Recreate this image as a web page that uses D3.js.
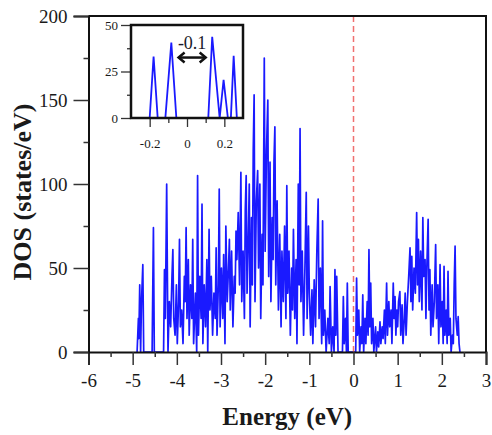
<!DOCTYPE html>
<html><head><meta charset="utf-8">
<script src="https://cdn.jsdelivr.net/npm/d3@7"></script>
<style>
html,body{margin:0;padding:0;background:#fff;}
svg text{font-family:"Liberation Serif","Times New Roman",serif;}
</style></head>
<body>
<svg id="chart" width="492" height="435"></svg>
<script>
// ---- data ----
const energy = [-4.90,-4.87,-4.86,-4.84,-4.82,-4.80,-4.77,-4.75,-4.56,-4.53,-4.51,-4.30,-4.28,-4.26,-4.23,-4.20,-4.17,-4.14,-4.11,-4.09,-4.07,-4.04,-4.01,-3.99,-3.96,-3.94,-3.92,-3.89,-3.86,-3.83,-3.81,-3.79,-3.77,-3.74,-3.72,-3.69,-3.66,-3.64,-3.62,-3.58,-3.55,-3.53,-3.51,-3.48,-3.45,-3.43,-3.41,-3.38,-3.35,-3.32,-3.30,-3.27,-3.25,-3.22,-3.19,-3.16,-3.13,-3.11,-3.09,-3.06,-3.04,-3.02,-2.99,-2.96,-2.94,-2.91,-2.89,-2.86,-2.83,-2.81,-2.79,-2.76,-2.73,-2.70,-2.68,-2.66,-2.64,-2.61,-2.58,-2.55,-2.53,-2.50,-2.47,-2.45,-2.43,-2.41,-2.38,-2.36,-2.34,-2.31,-2.29,-2.27,-2.25,-2.23,-2.20,-2.17,-2.15,-2.12,-2.10,-2.07,-2.05,-2.02,-2.00,-1.97,-1.94,-1.92,-1.89,-1.87,-1.84,-1.82,-1.80,-1.78,-1.76,-1.73,-1.70,-1.67,-1.64,-1.62,-1.59,-1.56,-1.53,-1.51,-1.49,-1.46,-1.43,-1.40,-1.38,-1.36,-1.33,-1.30,-1.28,-1.25,-1.23,-1.21,-1.19,-1.16,-1.13,-1.10,-1.07,-1.05,-1.02,-1.00,-0.97,-0.94,-0.92,-0.89,-0.86,-0.83,-0.80,-0.78,-0.75,-0.72,-0.70,-0.68,-0.65,-0.62,-0.58,-0.55,-0.53,-0.50,-0.47,-0.44,-0.42,-0.40,-0.38,-0.35,-0.25,-0.23,-0.21,-0.18,-0.16,-0.14,-0.12,0.05,0.07,0.09,0.12,0.14,0.17,0.19,0.21,0.23,0.26,0.28,0.31,0.33,0.35,0.37,0.39,0.41,0.44,0.46,0.50,0.52,0.55,0.57,0.60,0.62,0.65,0.67,0.70,0.72,0.75,0.77,0.80,0.82,0.85,0.87,0.90,0.92,0.94,0.96,0.98,1.00,1.02,1.05,1.07,1.10,1.12,1.15,1.17,1.19,1.22,1.25,1.28,1.30,1.32,1.34,1.37,1.40,1.43,1.45,1.47,1.49,1.52,1.55,1.57,1.59,1.62,1.64,1.66,1.69,1.71,1.73,1.75,1.78,1.80,1.83,1.86,1.88,1.91,1.93,1.96,1.98,2.01,2.03,2.05,2.07,2.10,2.12,2.14,2.16,2.19,2.21,2.24,2.26,2.28,2.30,2.32,2.35,2.37,2.39,2.41];
const dos = [0,20,8,40,0,30,52,0,0,74,0,0,49,20,100,0,30,15,45,61,20,10,40,5,30,67,15,25,5,45,30,74,20,55,10,40,20,67,5,35,0,105,10,45,20,88,5,40,15,55,0,73,25,45,10,35,20,62,10,40,97,15,50,20,58,5,75,30,50,67,25,60,15,45,35,72,55,83,40,107,30,60,20,85,105,35,70,100,15,80,40,120,153,30,90,108,50,100,20,70,40,175,60,120,150,45,113,30,80,55,114,134,40,90,25,70,15,60,30,75,20,99,35,60,10,50,25,73,20,55,5,100,40,133,30,60,10,50,95,20,75,35,10,37,5,43,15,60,91,20,50,5,78,10,25,0,20,5,39,0,15,0,49,10,45,0,0,33,5,20,0,41,0,0,44,10,25,0,15,5,34,0,20,5,30,10,61,15,41,5,20,0,15,0,12,3,18,5,15,8,25,5,41,10,30,15,25,5,41,20,33,10,25,15,30,36,10,28,5,20,35,10,30,45,62,30,57,25,50,35,83,40,67,30,60,25,80,45,55,20,50,79,25,49,10,40,15,30,64,20,40,5,52,15,30,5,51,10,25,5,48,10,20,0,10,5,40,63,20,10,21,5,0];

const insetEnergy = [-0.200,-0.179,-0.157,-0.116,-0.084,-0.057,0.114,0.135,0.175,0.196,0.219,0.235,0.250,0.267];
const insetDos    = [0,33,0,0,40.5,0,0,43.7,0,20.5,0,0,33.4,0];

const xTicks = [-6,-5,-4,-3,-2,-1,0,1,2,3];
const xMinorTicks = [-5.5,-4.5,-3.5,-2.5,-1.5,-0.5,0.5,1.5,2.5];
const yTicks = [0,50,100,150,200];
const yMinorTicks = [25,75,125,175];
const insetXTicks = [-0.2,0,0.2];
const insetXMinor = [-0.1,0.1];
const insetYTicks = [0,25,50];
const insetYMinor = [12.5,37.5];

const xTitle = "Energy (eV)";
const yTitle = "DOS (states/eV)";
const gapLabel = "-0.1";

// ---- layout ----
const svg = d3.select("#chart");
const L = 88.5, R = 486, T = 16, B = 352;
const x = d3.scaleLinear().domain([-6,3]).range([L,R]);
const y = d3.scaleLinear().domain([0,200]).range([B,T]);
const textColor = "#1a1a1a";

// main line
const line = d3.line().x((d,i)=>x(energy[i])).y((d,i)=>y(dos[i]));
svg.append("path").datum(dos).attr("d",line)
  .attr("fill","none").attr("stroke","#1a1aff").attr("stroke-width",1.7).attr("stroke-linejoin","round");

// fermi level
svg.append("line").attr("x1",x(0)).attr("x2",x(0)).attr("y1",T).attr("y2",B)
  .attr("stroke","#f07070").attr("stroke-width",1.5).attr("stroke-dasharray","6,4");

// axes
const xAxis = d3.axisBottom(x).tickValues(xTicks).tickSize(13).tickFormat(d3.format("d"));
const gx = svg.append("g").attr("transform",`translate(0,${B})`).call(xAxis);
gx.select(".domain").attr("stroke","#111").attr("stroke-width",2);
gx.selectAll(".tick line").attr("stroke","#333").attr("stroke-width",1.5);
gx.selectAll(".tick text").attr("font-size",19).attr("fill",textColor).attr("dy","1.0em")
  .text(d=>d<0? "-"+Math.abs(d) : d);
const gxm = svg.append("g").attr("transform",`translate(0,${B})`)
  .call(d3.axisBottom(x).tickValues(xMinorTicks).tickSize(5).tickFormat(""));
gxm.select(".domain").remove();
gxm.selectAll(".tick line").attr("stroke","#333").attr("stroke-width",1.5);

const yAxis = d3.axisLeft(y).tickValues(yTicks).tickSize(15);
const gy = svg.append("g").attr("transform",`translate(${L},0)`).call(yAxis);
gy.select(".domain").attr("stroke","#111").attr("stroke-width",2);
gy.selectAll(".tick line").attr("stroke","#333").attr("stroke-width",1.5);
gy.selectAll(".tick text").attr("font-size",19).attr("fill",textColor).attr("x",-21);
const gym = svg.append("g").attr("transform",`translate(${L},0)`)
  .call(d3.axisLeft(y).tickValues(yMinorTicks).tickSize(5).tickFormat(""));
gym.select(".domain").remove();
gym.selectAll(".tick line").attr("stroke","#333").attr("stroke-width",1.5);

// frame top & right
svg.append("path").attr("d",`M${L},${T}H${R}V${B}`).attr("fill","none")
  .attr("stroke","#111").attr("stroke-width",2);

// titles
svg.append("text").attr("x",(L+R)/2).attr("y",425).attr("text-anchor","middle")
  .attr("font-size",25).attr("font-weight","bold").attr("fill",textColor).text(xTitle);
svg.append("text").attr("transform",`translate(31,${(T+B)/2+8}) rotate(-90)`)
  .attr("text-anchor","middle").attr("font-size",26).attr("font-weight","bold")
  .attr("fill",textColor).text(yTitle);

// ---- inset ----
const iL = 131, iR = 243, iT = 25, iB = 118;
const ix = d3.scaleLinear().domain([-0.3,0.3]).range([iL,iR]);
const iy = d3.scaleLinear().domain([0,50]).range([iB,iT]);
svg.append("rect").attr("x",iL).attr("y",iT).attr("width",iR-iL).attr("height",iB-iT).attr("fill","#fff");
svg.append("clipPath").attr("id","iclip").append("rect")
  .attr("x",iL).attr("y",iT).attr("width",iR-iL).attr("height",iB-iT);
const iline = d3.line().x((d,i)=>ix(insetEnergy[i])).y((d,i)=>iy(insetDos[i]));
svg.append("path").datum(insetDos).attr("d",iline).attr("clip-path","url(#iclip)")
  .attr("fill","none").attr("stroke","#1a1aff").attr("stroke-width",1.8);

const gix = svg.append("g").attr("transform",`translate(0,${iB})`)
  .call(d3.axisBottom(ix).tickValues(insetXTicks).tickSize(9).tickFormat(d=>d===0?"0":(d<0?"-":"")+Math.abs(d)));
gix.select(".domain").remove();
gix.selectAll(".tick line").attr("stroke","#333").attr("stroke-width",1.3);
gix.selectAll(".tick text").attr("font-size",13).attr("fill",textColor).attr("dy","1.4em");
const gixm = svg.append("g").attr("transform",`translate(0,${iB})`)
  .call(d3.axisBottom(ix).tickValues(insetXMinor).tickSize(5).tickFormat(""));
gixm.select(".domain").remove();
gixm.selectAll(".tick line").attr("stroke","#333").attr("stroke-width",1.3);

const giy = svg.append("g").attr("transform",`translate(${iL},0)`)
  .call(d3.axisLeft(iy).tickValues(insetYTicks).tickSize(10));
giy.select(".domain").remove();
giy.selectAll(".tick line").attr("stroke","#333").attr("stroke-width",1.3);
giy.selectAll(".tick text").attr("font-size",13).attr("fill",textColor).attr("x",-13);
const giym = svg.append("g").attr("transform",`translate(${iL},0)`)
  .call(d3.axisLeft(iy).tickValues(insetYMinor).tickSize(4).tickFormat(""));
giym.select(".domain").remove();
giym.selectAll(".tick line").attr("stroke","#333").attr("stroke-width",1.3);

svg.append("rect").attr("x",iL).attr("y",iT).attr("width",iR-iL).attr("height",iB-iT)
  .attr("fill","none").attr("stroke","#111").attr("stroke-width",2.5);

// gap arrow & label
const ax1 = ix(-0.045), ax2 = ix(0.1), ay = iy(32.5);
svg.append("line").attr("x1",ax1+1).attr("x2",ax2-1).attr("y1",ay).attr("y2",ay)
  .attr("stroke","#111").attr("stroke-width",2.5);
svg.append("path").attr("d",`M${ax1+6},${ay-5}L${ax1},${ay}L${ax1+6},${ay+5}M${ax2-6},${ay-5}L${ax2},${ay}L${ax2-6},${ay+5}`)
  .attr("fill","none").attr("stroke","#111").attr("stroke-width",2.5);
svg.append("text").attr("x",(ax1+ax2)/2).attr("y",iy(37)).attr("text-anchor","middle")
  .attr("font-size",18).attr("fill","#1a1a2a").text(gapLabel);
</script>
</body></html>
